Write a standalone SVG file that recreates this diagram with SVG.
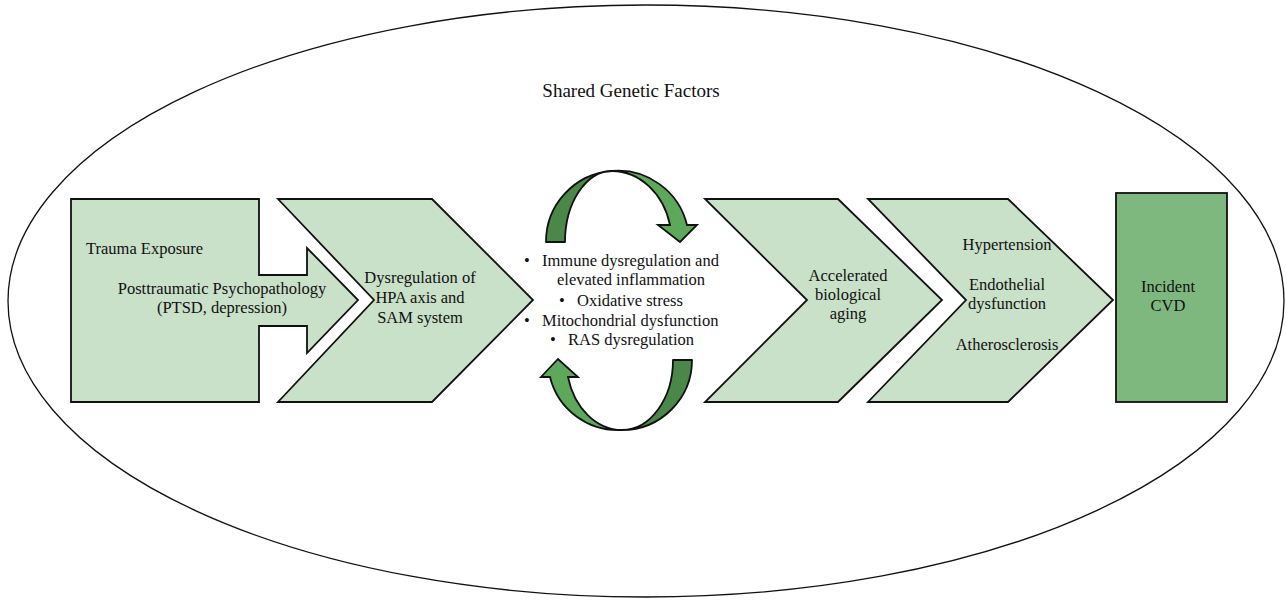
<svg xmlns="http://www.w3.org/2000/svg" width="1286" height="600" viewBox="0 0 1286 600" font-family="'Liberation Serif', 'DejaVu Serif', serif">
<style>
text{font-family:'Liberation Serif','DejaVu Serif',serif;font-size:16.5px;fill:#111;}
.c{text-anchor:middle;}
.shape{fill:#c9e0c9;stroke:#111;stroke-width:1.8;stroke-linejoin:miter;}
.dark{fill:#4b8748;stroke:#111;stroke-width:1.8;stroke-linejoin:round;}
.light{fill:#5da85a;stroke:#111;stroke-width:1.8;stroke-linejoin:miter;}
</style>
<rect width="1286" height="600" fill="#fff"/>
<g id="shared-genetic-factors">
<ellipse cx="646" cy="301" rx="638" ry="296" fill="none" stroke="#111" stroke-width="1.3"/>
<text class="c" x="631" y="97" style="font-size:19px">Shared Genetic Factors</text>
</g>
<g id="trauma">
<path class="shape" d="M71,199 L259,199 L259,275 L307,275 L307,248 L358,300 L307,353 L307,326 L259,326 L259,402 L71,402 Z"/>
<text x="86" y="254">Trauma Exposure</text>
<text class="c" x="222" y="294">Posttraumatic Psychopathology</text>
<text class="c" x="222" y="313">(PTSD, depression)</text>
</g>
<g id="dysregulation">
<path class="shape" d="M278,199 L432,199 L533,300 L432,402 L278,402 L374,300 Z"/>
<text class="c" x="420" y="283">Dysregulation of</text>
<text class="c" x="420" y="303">HPA axis and</text>
<text class="c" x="420" y="323">SAM system</text>
</g>
<g id="mechanisms">
<text x="524" y="266">•</text>
<text x="542" y="266">Immune dysregulation and</text>
<text class="c" x="631" y="285">elevated inflammation</text>
<text x="559" y="306">•</text>
<text x="577" y="306">Oxidative stress</text>
<text x="524" y="326">•</text>
<text x="542" y="326">Mitochondrial dysfunction</text>
<text x="550" y="345">•</text>
<text x="568" y="345">RAS dysregulation</text>
</g>
<g id="cycle-top">
<path class="dark" d="M546,242 A71,71 0 0 1 612,171 A47,71 0 0 0 565,242 Z"/>
<path class="light" d="M612,171 A71,71 0 0 1 687,225 L697,225 L680,242 L658,225 L670,225 A60,71 0 0 0 612,171 Z"/>
</g>
<g id="cycle-bottom">
<path class="dark" d="M692,360 A70,70 0 0 1 622,430 A51,70 0 0 0 673,360 Z"/>
<path class="light" d="M622,430 A70,70 0 0 1 550,377 L541,377 L558,359 L578,377 L568,377 A56,70 0 0 0 622,430 Z"/>
</g>
<g id="aging">
<path class="shape" d="M705,199 L838,199 L942,300 L838,402 L705,402 L807,300 Z"/>
<text class="c" x="848" y="281">Accelerated</text>
<text class="c" x="848" y="300">biological</text>
<text class="c" x="848" y="319">aging</text>
</g>
<g id="vascular">
<path class="shape" d="M868,199 L1008,199 L1113,300 L1008,402 L868,402 L966,300 Z"/>
<text class="c" x="1007" y="250">Hypertension</text>
<text class="c" x="1007" y="290">Endothelial</text>
<text class="c" x="1007" y="309">dysfunction</text>
<text class="c" x="1007" y="350">Atherosclerosis</text>
</g>
<g id="incident-cvd">
<rect x="1116" y="193" width="111" height="209" fill="#7fb87f" stroke="#111" stroke-width="1.8"/>
<text class="c" x="1168" y="292">Incident</text>
<text class="c" x="1168" y="311">CVD</text>
</g>
<g id="connectors"></g>
</svg>
